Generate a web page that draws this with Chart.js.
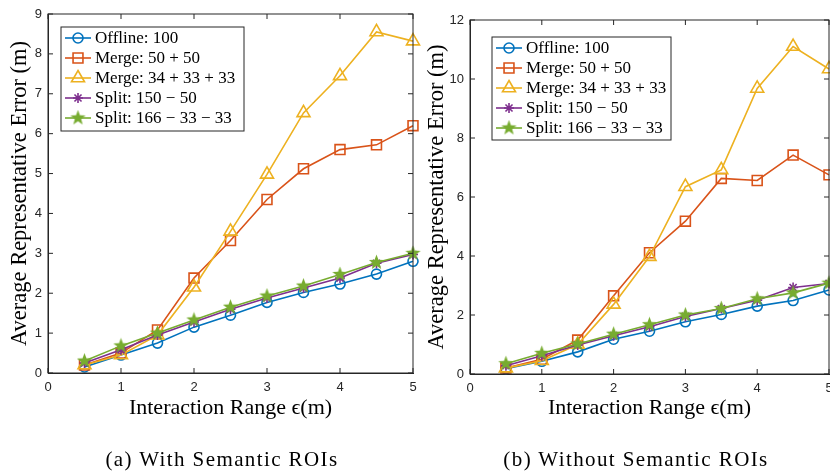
<!DOCTYPE html>
<html>
<head>
<meta charset="utf-8">
<script src="https://cdn.jsdelivr.net/npm/chart.js@4.4.1/dist/chart.umd.min.js"></script>
<style>
  body { margin: 0; background: #fff; width: 830px; height: 473px; overflow: hidden; position: relative; }
  .panel { position: absolute; top: 0; }
  .caption { position: absolute; top: 447px; font-family: "Liberation Serif", serif; font-size: 21px; letter-spacing: 1.4px; color: #000; white-space: nowrap; transform: translateX(-50%); }
</style>
</head>
<body>
<div class="panel" style="left:0;width:432px;height:473px"><canvas id="left"></canvas></div>
<div class="panel" style="left:415px;width:415px;height:473px"><canvas id="right"></canvas></div>
<div class="caption" style="left:222px">(a) With Semantic ROIs</div>
<div class="caption" style="left:636px">(b) Without Semantic ROIs</div>
<script>
// interaction range values (m)
const ranges = [0.5, 1, 1.5, 2, 2.5, 3, 3.5, 4, 4.5, 5];
const seriesNames = ['Offline: 100', 'Merge: 50 + 50', 'Merge: 34 + 33 + 33', 'Split: 150 \u2212 50', 'Split: 166 \u2212 33 \u2212 33'];

// (a) with semantic ROIs
const withOffline = [0.15, 0.45, 0.75, 1.15, 1.45, 1.77, 2.02, 2.23, 2.48, 2.8];
const withMerge2 = [0.2, 0.5, 1.08, 2.38, 3.32, 4.35, 5.12, 5.6, 5.72, 6.2];
const withMerge3 = [0.2, 0.45, 0.95, 2.15, 3.55, 4.98, 6.52, 7.45, 8.55, 8.32];
const withSplit2 = [0.25, 0.58, 0.95, 1.28, 1.6, 1.88, 2.13, 2.38, 2.75, 2.97];
const withSplit3 = [0.3, 0.68, 1.0, 1.33, 1.65, 1.93, 2.18, 2.47, 2.77, 3.0];

// (b) without semantic ROIs
const woOffline = [0.18, 0.43, 0.75, 1.18, 1.45, 1.77, 2.02, 2.3, 2.49, 2.85];
const woMerge2 = [0.2, 0.5, 1.15, 2.65, 4.11, 5.18, 6.63, 6.56, 7.42, 6.75];
const woMerge3 = [0.2, 0.45, 1.0, 2.36, 3.98, 6.35, 6.92, 9.68, 11.1, 10.34];
const woSplit2 = [0.28, 0.62, 0.98, 1.3, 1.6, 1.95, 2.22, 2.5, 2.93, 3.07];
const woSplit3 = [0.35, 0.7, 1.02, 1.35, 1.67, 2.0, 2.22, 2.55, 2.75, 3.08];

const colors = ['#0072BD', '#D95319', '#EDB120', '#7E2F8E', '#77AC30'];
const axisColor = '#262626';
const serif = '"Liberation Serif", "DejaVu Serif", serif';
const sans = '"Liberation Sans", Arial, sans-serif';

// filled pentagram marker (matlab 'p')
const pent = document.createElement('canvas');
pent.width = 17; pent.height = 17;
(() => {
    const c = pent.getContext('2d');
    c.beginPath();
    for (let k = 0; k < 10; k++) {
        const r = k % 2 === 0 ? 8 : 3.3;
        const a = -Math.PI / 2 + k * Math.PI / 5;
        const px = 8.5 + r * Math.cos(a), py = 8.5 + r * Math.sin(a);
        if (k === 0) c.moveTo(px, py); else c.lineTo(px, py);
    }
    c.closePath();
    c.fillStyle = colors[4];
    c.fill();
})();

const markers = [
    { style: 'circle', radius: 5 },
    { style: 'rect', radius: 7 },
    { style: 'triangle', radius: 7.5 },
    { style: 'star', radius: 5 },
    { style: pent, radius: 8 }
];

const makeDatasets = (lists) => lists.map((vals, i) => ({
    label: seriesNames[i],
    data: vals.map((v, j) => ({ x: ranges[j], y: v })),
    borderColor: colors[i],
    backgroundColor: 'rgba(0,0,0,0)',
    borderWidth: 1.6,
    pointStyle: markers[i].style,
    pointRadius: markers[i].radius,
    pointBorderWidth: 1.6,
    pointBorderColor: colors[i],
    pointBackgroundColor: 'rgba(0,0,0,0)',
    tension: 0,
    clip: false,
    order: lists.length - i
}));

// box + inward ticks like matlab
const boxTicks = {
    id: 'boxTicks',
    afterDraw(chart) {
        const { ctx, chartArea: a, scales } = chart;
        ctx.save();
        ctx.strokeStyle = axisColor;
        ctx.lineWidth = 1;
        ctx.strokeRect(a.left, a.top, a.right - a.left, a.bottom - a.top);
        ctx.beginPath();
        scales.x.ticks.forEach(t => {
            const px = scales.x.getPixelForValue(t.value);
            ctx.moveTo(px, a.bottom); ctx.lineTo(px, a.bottom - 5);
            ctx.moveTo(px, a.top); ctx.lineTo(px, a.top + 5);
        });
        scales.y.ticks.forEach(t => {
            const py = scales.y.getPixelForValue(t.value);
            ctx.moveTo(a.left, py); ctx.lineTo(a.left + 5, py);
            ctx.moveTo(a.right, py); ctx.lineTo(a.right - 5, py);
        });
        ctx.stroke();
        ctx.restore();
    }
};

// legend box inside the axes
const legendBox = {
    id: 'legendBox',
    afterDraw(chart, args, opts) {
        const { ctx, chartArea } = chart;
        const x0 = chartArea.left + opts.dx, y0 = chartArea.top + opts.dy;
        ctx.save();
        ctx.fillStyle = '#fff';
        ctx.fillRect(x0, y0, opts.w, opts.h);
        ctx.strokeStyle = axisColor;
        ctx.lineWidth = 1;
        ctx.strokeRect(x0, y0, opts.w, opts.h);
        ctx.font = '17px ' + serif;
        ctx.textBaseline = 'middle';
        chart.data.datasets.forEach((ds, i) => {
            const cy = y0 + 11 + i * 20;
            ctx.strokeStyle = ds.borderColor;
            ctx.lineWidth = 1.6;
            ctx.beginPath();
            ctx.moveTo(x0 + 4, cy); ctx.lineTo(x0 + 30, cy);
            ctx.stroke();
            ctx.fillStyle = 'rgba(0,0,0,0)';
            Chart.helpers.drawPoint(ctx, { pointStyle: ds.pointStyle, rotation: 0, radius: ds.pointRadius, borderWidth: 1.6 }, x0 + 17, cy);
            ctx.fillStyle = '#000';
            ctx.fillText(ds.label, x0 + 34, cy + 1);
        });
        ctx.restore();
    }
};

const makeChart = (id, lists, yMax, yStep, lay) => new Chart(document.getElementById(id), {
    type: 'line',
    data: { datasets: makeDatasets(lists) },
    options: {
        responsive: true,
        maintainAspectRatio: false,
        animation: false,
        layout: { autoPadding: false, padding: { top: lay.top, right: lay.right, left: 0, bottom: 0 } },
        plugins: {
            legend: { display: false },
            tooltip: { enabled: false },
            legendBox: lay.legend
        },
        scales: {
            x: {
                type: 'linear', min: 0, max: 5,
                ticks: { stepSize: 1, color: axisColor, padding: 7, font: { family: sans, size: 13 } },
                grid: { drawOnChartArea: false, drawTicks: false },
                border: { color: axisColor },
                title: { display: true, text: 'Interaction Range \u03f5(m)', color: '#000', font: { family: serif, size: 22 }, padding: { top: 0, bottom: 52 } },
                afterFit: s => { s.height = lay.xh; s.paddingLeft = 0; s.paddingRight = 0; }
            },
            y: {
                min: 0, max: yMax,
                ticks: { stepSize: yStep, color: axisColor, padding: 6, font: { family: sans, size: 13 } },
                grid: { drawOnChartArea: false, drawTicks: false },
                border: { color: axisColor },
                title: { display: true, text: 'Average Representative Error (m)', color: '#000', font: { family: serif, size: 22.5 }, padding: { top: lay.tp, bottom: 0 } },
                afterFit: s => { s.width = lay.yw; s.paddingTop = 0; s.paddingBottom = 0; }
            }
        }
    },
    plugins: [boxTicks, legendBox]
});

makeChart('left', [withOffline, withMerge2, withMerge3, withSplit2, withSplit3], 9, 1,
    { top: 14, right: 19, xh: 100, yw: 48, tp: 7, legend: { dx: 13, dy: 13, w: 183, h: 104 } });
makeChart('right', [woOffline, woMerge2, woMerge3, woSplit2, woSplit3], 12, 2,
    { top: 20, right: 1, xh: 99, yw: 55, tp: 9, legend: { dx: 22, dy: 17, w: 179, h: 103 } });
</script>
</body>
</html>
